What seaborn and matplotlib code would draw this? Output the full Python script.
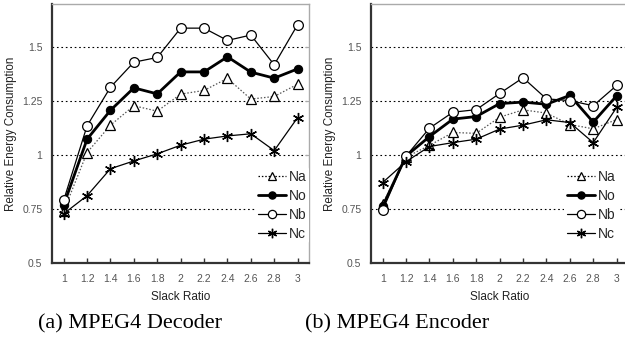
import matplotlib
matplotlib.use("Agg")
import matplotlib.pyplot as plt
import seaborn as sns
import numpy as np
from matplotlib.ticker import FixedLocator, FuncFormatter

slack = [1.0, 1.2, 1.4, 1.6, 1.8, 2.0, 2.2, 2.4, 2.6, 2.8, 3.0]
x_ticks = [1.0, 1.2, 1.4, 1.6, 1.8, 2.0, 2.2, 2.4, 2.6, 2.8, 3.0]
y_ticks = [0.5, 0.75, 1.0, 1.25, 1.5]

# (a) MPEG4 Decoder
dec_na = [0.74, 1.011, 1.138, 1.228, 1.203, 1.282, 1.299, 1.355, 1.259, 1.271, 1.328]
dec_no = [0.768, 1.073, 1.207, 1.311, 1.283, 1.385, 1.385, 1.455, 1.384, 1.356, 1.399]
dec_nb = [0.79, 1.135, 1.314, 1.43, 1.452, 1.588, 1.588, 1.531, 1.556, 1.418, 1.604]
dec_nc = [0.727, 0.811, 0.936, 0.972, 1.005, 1.045, 1.073, 1.088, 1.098, 1.02, 1.173]

# (b) MPEG4 Encoder
enc_na = [0.773, 0.99, 1.044, 1.104, 1.10, 1.175, 1.209, 1.194, 1.141, 1.121, 1.164]
enc_no = [0.762, 0.995, 1.085, 1.166, 1.178, 1.238, 1.245, 1.235, 1.276, 1.152, 1.274]
enc_nb = [0.744, 0.995, 1.124, 1.198, 1.21, 1.285, 1.358, 1.26, 1.252, 1.228, 1.322]
enc_nc = [0.872, 0.969, 1.039, 1.057, 1.073, 1.12, 1.138, 1.163, 1.15, 1.057, 1.22]

labels = ["Na", "No", "Nb", "Nc"]
captions = ["(a) MPEG4 Decoder", "(b) MPEG4 Encoder"]
x_label = "Slack Ratio"
y_label = "Relative Energy Consumption"

sns.set_theme(style="white")
plt.rcParams["font.family"] = ["Liberation Sans", "DejaVu Sans"]

fig = plt.figure(figsize=(6.25, 3.49), dpi=100)
W, H = 625, 349

def px_axes(x0, y0, x1, y1):
    return fig.add_axes([x0 / W, 1 - y1 / H, (x1 - x0) / W, (y1 - y0) / H])

ax_left = px_axes(52, 4, 309.3, 262.7)
ax_right = px_axes(371, 4, 628.3, 262.7)

styles = [
    dict(color="#555555", linestyle=(0, (1.2, 1.5)), linewidth=0.9, marker="^",
         markersize=6.5, markerfacecolor="white", markeredgecolor="black", markeredgewidth=0.9),
    dict(color="black", linestyle="-", linewidth=2.0, marker="o",
         markersize=6, markerfacecolor="black", markeredgecolor="black"),
    dict(color="black", linestyle="-", linewidth=0.9, marker="o",
         markersize=7, markerfacecolor="white", markeredgecolor="black", markeredgewidth=0.9),
    dict(color="black", linestyle="-", linewidth=0.9, marker=(6, 2, 0),
         markersize=8, markeredgecolor="black", markeredgewidth=1.0),
]
legend_styles = [dict(s) for s in styles]
legend_styles[0]["color"] = "black"
for s in legend_styles:
    s["markersize"] = s["markersize"] * 0.85

def draw(ax, series, cap, cap_x, leg_x):
    for vals, st, lab in zip(series, styles, labels):
        sns.lineplot(x=slack, y=vals, ax=ax, label=lab, legend=False, **st)
    ax.set_xlim(0.9, 3.1)
    ax.set_ylim(0.5, 1.7)
    ax.xaxis.set_major_locator(FixedLocator(x_ticks))
    ax.yaxis.set_major_locator(FixedLocator(y_ticks))
    ax.xaxis.set_major_formatter(FuncFormatter(lambda v, p: f"{v:g}"))
    ax.yaxis.set_major_formatter(FuncFormatter(lambda v, p: f"{v:g}"))
    ax.yaxis.grid(True, linestyle=(0, (1.5, 2.5)), color="black", linewidth=0.8)
    ax.xaxis.grid(False)
    for s in ["left", "bottom"]:
        ax.spines[s].set_color("#333333")
        ax.spines[s].set_linewidth(1.6)
    for s in ["top", "right"]:
        ax.spines[s].set_color("#aaaaaa")
        ax.spines[s].set_linewidth(1.0)
    ax.tick_params(axis="x", direction="in", length=3.5, width=1.0, color="#333333",
                   bottom=True, labelsize=7.5, labelcolor="#555555", pad=8)
    ax.tick_params(axis="y", left=False, right=True, direction="in", length=3,
                   width=0.8, color="#aaaaaa", labelsize=7.5, labelcolor="#555555", pad=7)
    ax.set_xlabel(x_label, fontsize=8.5, color="#222222", labelpad=5)
    ax.set_ylabel(y_label, fontsize=8.4, color="#222222")
    ax.yaxis.set_label_coords(-0.135, 0.5)
    handles = [plt.Line2D([], [], **st) for st in legend_styles]
    ax.legend(handles, labels, loc="lower right", bbox_to_anchor=(leg_x, 0.075),
              frameon=True, facecolor="white", edgecolor="none", framealpha=1.0,
              fontsize=10, handlelength=2.0, handletextpad=0.2,
              labelspacing=0.35, borderpad=0.2, borderaxespad=0.0)
    fig.text(cap_x / W, 1 - 328 / H, cap, fontsize=16, ha="center", va="baseline",
             family=["Liberation Serif", "DejaVu Serif"], color="black")

draw(ax_left, [dec_na, dec_no, dec_nb, dec_nc], captions[0], 130, 1.0)
draw(ax_right, [enc_na, enc_no, enc_nb, enc_nc], captions[1], 397, 0.96)

fig.savefig("out.png", dpi=100)
